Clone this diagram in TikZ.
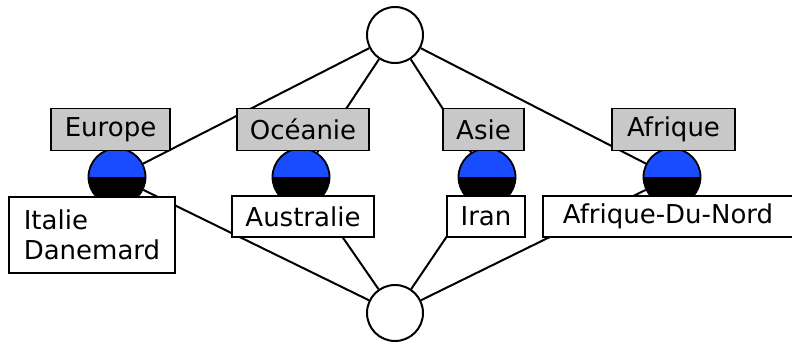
\documentclass[tikz,border=0pt]{standalone}
\usepackage{fontspec}
\setmainfont{DejaVu Sans}
\usepackage{xcolor}
\usetikzlibrary{positioning, backgrounds}
\definecolor{conceptblue}{RGB}{25,75,255}
\definecolor{intentgray}{RGB}{200,200,200}

\begin{document}
\begin{tikzpicture}[x=1pt, y=-1pt, font=\fontsize{26}{30}\selectfont,
    lattice/.style={circle, draw, line width=2pt, fill=white, minimum size=56pt, inner sep=0pt},
    concept/.style={circle, draw, line width=1.8pt, minimum size=57pt, inner sep=0pt,
      path picture={
        \fill[conceptblue] (path picture bounding box.west) rectangle (path picture bounding box.north east);
        \fill[black] (path picture bounding box.west) rectangle (path picture bounding box.south east);}},
    intentbox/.style={draw, line width=1.5pt, fill=intentgray, minimum height=42pt, inner sep=0pt},
    extentbox/.style={draw, line width=1.5pt, fill=white, minimum height=41pt, inner sep=0pt},
    edge/.style={line width=2pt}]
    \useasboundingbox (0,0) rectangle (792,345);
    \clip (0,0) rectangle (792,345);
    % top and bottom of the lattice
    \node[lattice] (top) at (395,35) {};
    \node[lattice] (bottom) at (395,313) {};
    % concepts
    \node[concept] (europe) at (117,177) {};
    \node[concept] (oceanie) at (301,177) {};
    \node[concept] (asie) at (487,177) {};
    \node[concept] (afrique) at (672,177) {};
    % intents
    \node[intentbox, minimum width=119pt] (europe-int) at (110.5,129.5) {Europe};
    \node[intentbox, minimum width=132pt] (oceanie-int) at (303,129.5) {Océanie};
    \node[intentbox, minimum width=81pt] (asie-int) at (483.5,129.5) {Asie};
    \node[intentbox, minimum width=123pt] (afrique-int) at (673.5,129.5) {Afrique};
    % extents
    \node[extentbox, minimum width=166pt, minimum height=76pt, align=left] (europe-ext) at (92,235) {Italie\\Danemard};
    \node[extentbox, minimum width=142pt] (oceanie-ext) at (303,216.5) {Australie};
    \node[extentbox, minimum width=78pt] (asie-ext) at (486,216.5) {Iran};
    \node[extentbox, minimum width=250pt] (afrique-ext) at (668,216.5) {Afrique-Du-Nord};
    \begin{scope}[on background layer]
    \foreach \c in {europe, oceanie, asie, afrique} {
        \draw[edge] (top) -- (\c);
        \draw[edge] (bottom) -- (\c);
    }
    \end{scope}
\end{tikzpicture}
\end{document}
